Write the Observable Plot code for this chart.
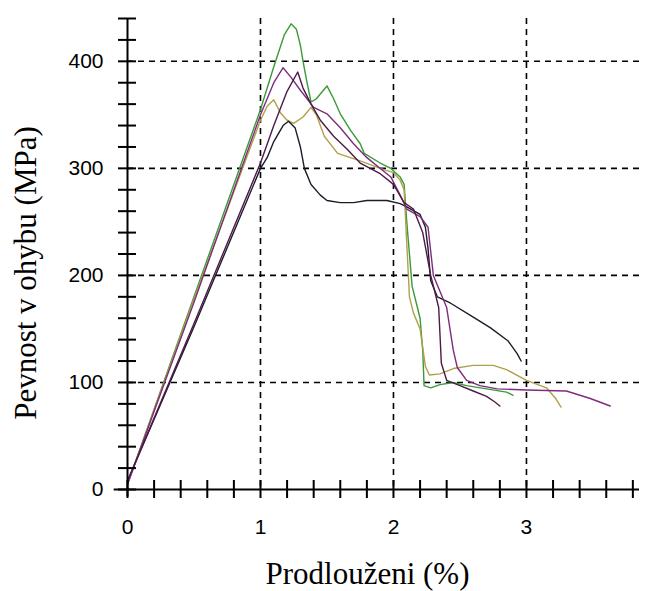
<!DOCTYPE html>
<html><head><meta charset="utf-8">
<script src="https://cdn.jsdelivr.net/npm/d3@7"></script>
<script src="https://cdn.jsdelivr.net/npm/@observablehq/plot@0.6"></script>
<style>body{margin:0;background:#fff}</style>
</head><body><div id="chart"></div>
<script>
// Series (elongation %, flexural strength MPa)
const seriesNames = ["green", "olive", "black", "purple", "darkpurple"];
const seriesColors = ["#3a9a3a", "#b0a04a", "#1c1c2a", "#7e2c7e", "#4e1a48"];

const greenX = [0, 0.5, 1.0, 1.1, 1.18, 1.23, 1.27, 1.3, 1.32, 1.35, 1.38, 1.42, 1.5, 1.55, 1.6, 1.68, 1.75, 1.78, 1.9, 1.98, 2.05, 2.08, 2.1, 2.12, 2.14, 2.18, 2.2, 2.22, 2.23, 2.28, 2.35, 2.45, 2.55, 2.7, 2.85, 2.9];
const greenY = [5, 180, 355, 395, 425, 435, 430, 415, 400, 380, 362, 365, 377, 365, 351, 335, 323, 314, 305, 300, 292, 285, 250, 220, 190, 170, 160, 130, 97, 95, 98, 100, 97, 94, 91, 88];

const oliveX = [0, 0.5, 1.0, 1.05, 1.1, 1.15, 1.2, 1.25, 1.32, 1.38, 1.42, 1.48, 1.58, 1.75, 1.9, 2.0, 2.05, 2.08, 2.1, 2.12, 2.15, 2.2, 2.24, 2.27, 2.35, 2.45, 2.6, 2.75, 2.85, 3.0, 3.15, 3.22, 3.26];
const oliveY = [5, 178, 345, 358, 364, 352, 345, 342, 348, 357, 350, 330, 314, 307, 300, 296, 289, 280, 230, 180, 165, 150, 115, 107, 108, 113, 116, 116, 112, 102, 95, 85, 77];

const blackX = [0, 0.5, 1.0, 1.05, 1.1, 1.17, 1.21, 1.26, 1.3, 1.33, 1.38, 1.45, 1.5, 1.6, 1.7, 1.8, 1.95, 2.05, 2.1, 2.2, 2.24, 2.26, 2.28, 2.33, 2.43, 2.6, 2.73, 2.86, 2.93, 2.96];
const blackY = [8, 152, 300, 310, 325, 340, 344, 338, 320, 300, 285, 275, 270, 268, 268, 270, 270, 267, 264, 257, 245, 225, 195, 180, 174, 161, 151, 139, 127, 120];

const purpleX = [0, 0.5, 1.0, 1.1, 1.17, 1.23, 1.3, 1.4, 1.5, 1.6, 1.7, 1.8, 1.98, 2.05, 2.1, 2.2, 2.26, 2.3, 2.4, 2.45, 2.48, 2.55, 2.65, 2.78, 3.0, 3.3, 3.48, 3.63];
const purpleY = [5, 175, 350, 380, 394, 385, 373, 357, 351, 338, 323, 310, 292, 275, 262, 255, 245, 200, 170, 130, 114, 102, 97, 94, 93, 92, 85, 78];

const darkpurpleX = [0, 0.5, 1.0, 1.1, 1.2, 1.28, 1.32, 1.38, 1.45, 1.55, 1.65, 1.75, 1.9, 2.0, 2.08, 2.15, 2.22, 2.28, 2.34, 2.36, 2.4, 2.5, 2.6, 2.7, 2.76, 2.8];
const darkpurpleY = [8, 155, 305, 340, 372, 390, 375, 360, 345, 330, 318, 305, 295, 285, 268, 262, 240, 200, 170, 118, 102, 97, 92, 87, 82, 78];

const xTicksMinor = d3.range(0, 20).map(i => i / 5);
const xTickLabels = [0, 1, 2, 3];
const yTicksMinor = d3.range(0, 23).map(i => i * 20);
const yTickLabels = [0, 100, 200, 300, 400];
const xGrid = [1, 2, 3];
const yGrid = [100, 200, 300, 400];

const xs = [greenX, oliveX, blackX, purpleX, darkpurpleX];
const ys = [greenY, oliveY, blackY, purpleY, darkpurpleY];
const table = seriesNames.flatMap((s, k) => xs[k].map((x, i) => ({series: s, x, y: ys[k][i]})));

const sans = "'Liberation Sans', Arial, sans-serif";
const serif = "'Liberation Serif', 'Times New Roman', serif";

const chart = Plot.plot({
  width: 646, height: 591,
  marginLeft: 127, marginRight: 7, marginTop: 18, marginBottom: 102,
  style: {background: "#fff", fontFamily: sans},
  x: {domain: [0, 3.85], axis: null, label: null},
  y: {domain: [0, 440], axis: null, label: null},
  color: {domain: seriesNames, range: seriesColors},
  marks: [
    Plot.ruleY(yGrid, {stroke: "#000", strokeWidth: 1.6, strokeDasharray: "6,5"}),
    Plot.ruleX(xGrid, {stroke: "#000", strokeWidth: 1.6, strokeDasharray: "6,5"}),
    Plot.line(table, {x: "x", y: "y", z: "series", stroke: "series", strokeWidth: 1.4}),
    Plot.ruleY([0], {x1: -0.1, x2: 3.85, stroke: "#000", strokeWidth: 2}),
    Plot.ruleX([0], {y1: -7, y2: 440, stroke: "#000", strokeWidth: 2}),
    Plot.axisX(xTicksMinor, {tickSize: 18, dy: -9, tickFormat: () => "", strokeWidth: 2, label: null}),
    Plot.axisX(xTickLabels, {tickSize: 0, tickPadding: 30, fontSize: 21, fontFamily: sans, tickFormat: d3.format("d"), label: null}),
    Plot.axisY(yTicksMinor, {tickSize: 18, dx: 9, tickFormat: () => "", strokeWidth: 2, label: null}),
    Plot.axisY(yTickLabels, {tickSize: 0, tickPadding: 24, fontSize: 21, fontFamily: sans, tickFormat: d3.format("d"), label: null}),
    Plot.text(["Prodlouženi (%)"], {frameAnchor: "bottom", textAnchor: "middle", lineAnchor: "middle", dx: -16, dy: 85, fontSize: 31, fontFamily: serif, fill: "#000"}),
    Plot.text(["Pevnost v ohybu (MPa)"], {frameAnchor: "left", textAnchor: "middle", lineAnchor: "middle", dx: -101, dy: 19, rotate: -90, fontSize: 31, fontFamily: serif, fill: "#000"})
  ]
});
document.getElementById("chart").appendChild(chart);
</script>
</body></html>
